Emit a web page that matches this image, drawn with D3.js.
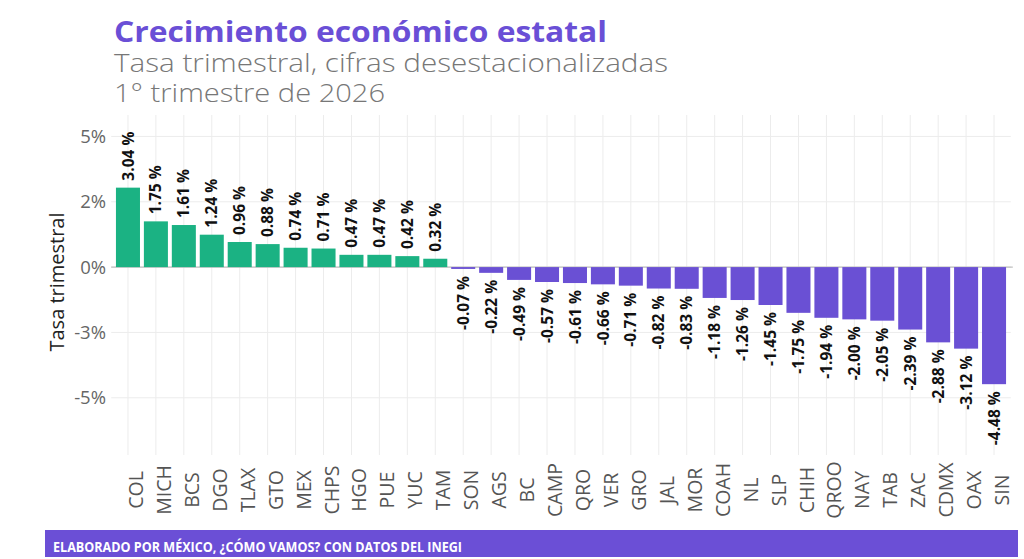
<!DOCTYPE html>
<html>
<head>
<meta charset="utf-8">
<script src="https://cdn.jsdelivr.net/npm/d3@7"></script>
<style>
  html, body { margin: 0; padding: 0; background: #ffffff; }
  svg { display: block; }
</style>
</head>
<body>
<svg id="chart" width="1024" height="559"></svg>
<script>
// ---- Data ----
const categories = ["COL","MICH","BCS","DGO","TLAX","GTO","MEX","CHPS","HGO","PUE","YUC","TAM",
  "SON","AGS","BC","CAMP","QRO","VER","GRO","JAL","MOR","COAH","NL","SLP","CHIH","QROO","NAY","TAB","ZAC","CDMX","OAX","SIN"];
const values = [3.04,1.75,1.61,1.24,0.96,0.88,0.74,0.71,0.47,0.47,0.42,0.32,
  -0.07,-0.22,-0.49,-0.57,-0.61,-0.66,-0.71,-0.82,-0.83,-1.18,-1.26,-1.45,-1.75,-1.94,-2.00,-2.05,-2.39,-2.88,-3.12,-4.48];
const yTickValues = [-5, -2.5, 0, 2.5, 5];
const yTickLabels = ["-5%", "-3%", "0%", "2%", "5%"];
const titleText = "Crecimiento económico estatal";
const subtitleLines = ["Tasa trimestral, cifras desestacionalizadas", "1° trimestre de 2026"];
const yAxisTitle = "Tasa trimestral";
const captionText = "ELABORADO POR MÉXICO, ¿CÓMO VAMOS? CON DATOS DEL INEGI";

// ---- Layout ----
const svg = d3.select("#chart");
const panel = { left: 111.2, right: 1010.8, top: 115, bottom: 455 };
const GREEN = "#1BB283", PURPLE = "#6A50D4";
const FONT = "'Open Sans', 'Noto Sans', sans-serif";

const x = d3.scalePoint().domain(categories).range([panel.left, panel.right]).padding(0.6);
const y = d3.scaleLinear().domain([-7.19, 5.82]).range([panel.bottom, panel.top]);
const bw = x.step() * 0.86;

// Gridlines
const grid = svg.append("g");
grid.selectAll("line.v").data(categories).join("line")
  .attr("x1", d => x(d)).attr("x2", d => x(d))
  .attr("y1", panel.top).attr("y2", panel.bottom)
  .attr("stroke", "#ececec").attr("stroke-width", 1);
grid.selectAll("line.h").data(yTickValues).join("line")
  .attr("x1", panel.left).attr("x2", panel.right)
  .attr("y1", d => y(d)).attr("y2", d => y(d))
  .attr("stroke", "#ececec").attr("stroke-width", 1);

// Zero line
svg.append("line")
  .attr("x1", panel.left).attr("x2", panel.right + 2)
  .attr("y1", y(0)).attr("y2", y(0))
  .attr("stroke", "#b0b0b0").attr("stroke-width", 1);

// Bars
const data = categories.map((c, i) => ({ c, v: values[i] }));
svg.append("g").selectAll("rect").data(data).join("rect")
  .attr("x", d => x(d.c) - bw / 2)
  .attr("width", bw)
  .attr("y", d => Math.min(y(d.v), y(0)))
  .attr("height", d => Math.abs(y(d.v) - y(0)))
  .attr("fill", d => d.v >= 0 ? GREEN : PURPLE);

// Value labels
svg.append("g").selectAll("text").data(data).join("text")
  .attr("transform", d => {
    const yy = d.v >= 0 ? y(d.v) - 7 : y(d.v) + 7;
    return `translate(${x(d.c)},${yy}) rotate(-90)`;
  })
  .attr("text-anchor", d => d.v >= 0 ? "start" : "end")
  .attr("dy", "0.36em")
  .attr("font-family", FONT)
  .attr("font-weight", 700)
  .attr("font-size", 15.5)
  .attr("fill", "#111")
  .text(d => d.v.toFixed(2) + " %");

// Y axis (labels only)
const yAxis = d3.axisLeft(y).tickValues(yTickValues)
  .tickFormat((d, i) => yTickLabels[i]).tickSize(0).tickPadding(0);
const gy = svg.append("g").attr("transform", `translate(106,0)`).call(yAxis);
gy.select(".domain").remove();
gy.selectAll("text").attr("font-family", FONT).attr("font-size", 18.5).attr("fill", "#666");

// X axis (rotated labels)
const xAxis = d3.axisBottom(x).tickSize(0).tickPadding(0);
const gx = svg.append("g").call(xAxis);
gx.select(".domain").remove();
gx.selectAll(".tick text")
  .attr("transform", "translate(7.5,490) rotate(-90)")
  .attr("x", 0).attr("y", 0).attr("dy", "0.36em")
  .attr("text-anchor", "middle")
  .attr("font-family", FONT).attr("font-size", 19.5).attr("fill", "#555");

// Y axis title
svg.append("text")
  .attr("transform", `translate(57,${(panel.top + panel.bottom) / 2 - 3}) rotate(-90)`)
  .attr("text-anchor", "middle").attr("dy", "0.36em")
  .attr("font-family", FONT).attr("font-size", 20).attr("fill", "#222")
  .text(yAxisTitle);

// Titles
svg.append("text")
  .attr("x", 114).attr("y", 41.7)
  .attr("font-family", FONT).attr("font-weight", 700).attr("font-size", 28.5)
  .attr("fill", "#6A4FD6")
  .attr("textLength", 493).attr("lengthAdjust", "spacingAndGlyphs")
  .text(titleText);
const subW = [554, 271];
const subY = [71.7, 101.7];
subtitleLines.forEach((t, i) => {
  svg.append("text")
    .attr("x", 114).attr("y", subY[i])
    .attr("font-family", FONT).attr("font-weight", 300).attr("font-size", 25)
    .attr("fill", "#777")
    .attr("textLength", subW[i]).attr("lengthAdjust", "spacingAndGlyphs")
    .text(t);
});

// Caption banner
svg.append("rect").attr("x", 45).attr("y", 530).attr("width", 973).attr("height", 27).attr("fill", "#6B4FD6");
svg.append("text")
  .attr("x", 53).attr("y", 552)
  .attr("font-family", FONT).attr("font-weight", 700).attr("font-size", 14.5)
  .attr("fill", "#ffffff")
  .attr("textLength", 409).attr("lengthAdjust", "spacingAndGlyphs")
  .text(captionText);
</script>
</body>
</html>
